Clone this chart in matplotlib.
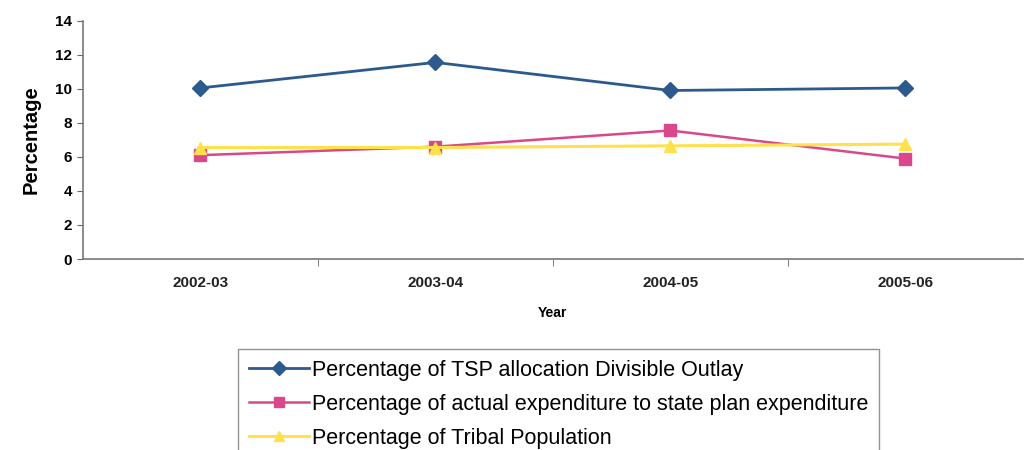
import matplotlib.pyplot as plt
from matplotlib.ticker import FixedLocator

# Share of the tribal sub-plan (TSP) by year
years = ["2002-03", "2003-04", "2004-05", "2005-06"]
tsp_outlay = [10.05, 11.55, 9.9, 10.05]
actual_expenditure = [6.1, 6.6, 7.55, 5.9]
tribal_population = [6.55, 6.55, 6.65, 6.75]

plt.rcParams['font.family'] = ['Liberation Sans', 'DejaVu Sans']

fig = plt.figure(figsize=(10.28, 4.5), dpi=100)
ax = fig.add_axes([0.0807, 0.4244, 0.9143, 0.5296])

x = range(len(years))
ax.plot(x, tsp_outlay, color="#2D5A8C", lw=2, marker="D", ms=8,
        label="Percentage of TSP allocation Divisible Outlay")
ax.plot(x, actual_expenditure, color="#D9488A", lw=1.8, marker="s", ms=9,
        label="Percentage of actual expenditure to state plan expenditure")
ax.plot(x, tribal_population, color="#FFE04D", lw=2.2, marker="^", ms=9,
        label="Percentage of Tribal Population")

ax.set_xlim(-0.5, len(years) - 0.5)
ax.set_ylim(0, 14)
ax.set_yticks(range(0, 15, 2))
ax.set_xticks(list(x))
ax.set_xticklabels(years, fontsize=11, fontweight="bold", color="#222222")
ax.xaxis.set_minor_locator(FixedLocator([0.5, 1.5, 2.5]))
ax.tick_params(axis="x", which="major", length=0, pad=12)
ax.tick_params(axis="x", which="minor", length=5, color="#666666")
ax.tick_params(axis="y", length=4, color="#666666", labelsize=11, pad=4)
for lbl in ax.get_yticklabels():
    lbl.set_fontweight("bold")

for side in ["top", "right"]:
    ax.spines[side].set_visible(False)
for side in ["left", "bottom"]:
    ax.spines[side].set_color("#777777")
    ax.spines[side].set_linewidth(1.2)

ax.set_ylabel("Percentage", fontsize=14.5, fontweight="bold", labelpad=10)
ax.set_xlabel("Year", fontsize=10, fontweight="bold", labelpad=12)

fig.legend(loc="upper left", bbox_to_anchor=(238 / 1028, 1 - 349 / 450),
           fontsize=15.5, frameon=True, fancybox=False, edgecolor="#777777",
           handlelength=2.8, handletextpad=0.15, labelspacing=0.6,
           borderpad=0.5, borderaxespad=0, markerscale=0.85)

fig.savefig("out.png", dpi=100)
